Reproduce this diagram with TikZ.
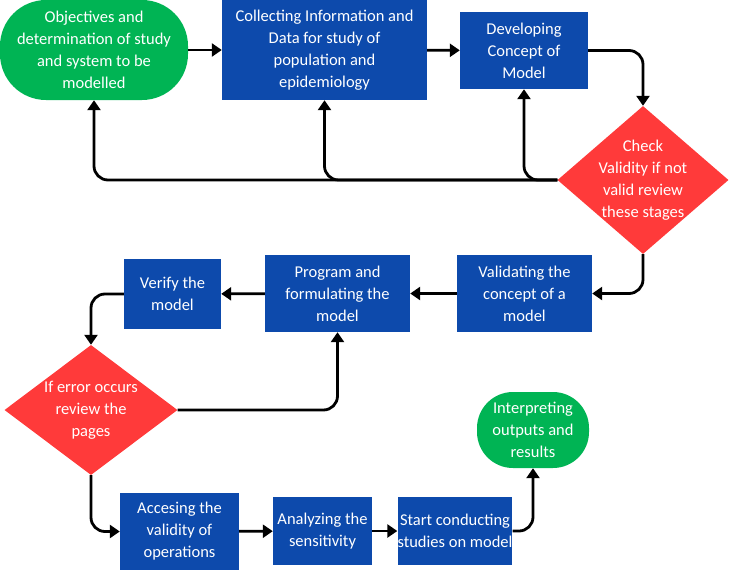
\documentclass[tikz,border=0pt]{standalone}
\usepackage{fontspec}
\setmainfont{Carlito}
\usepackage{tikz}
\usetikzlibrary{shapes.geometric, arrows.meta, positioning}
\usepackage{xcolor}
\definecolor{termgreen}{HTML}{00B454}
\definecolor{boxblue}{HTML}{0D4AAC}
\definecolor{checkred}{HTML}{FF3A3A}
\tikzstyle{startstop} = [rectangle, rounded corners=46pt, inner sep=0pt, align=center, fill=termgreen, text=white, font=\fontsize{16.5}{22}\selectfont]
\tikzstyle{process} = [rectangle, inner sep=0pt, align=center, fill=boxblue, text=white, font=\fontsize{16.5}{22}\selectfont]
\tikzstyle{decision} = [diamond, inner sep=-14pt, align=center, fill=checkred, text=white, font=\fontsize{16.5}{22}\selectfont]
\tikzstyle{arrow} = [line width=2.8pt, ->, >={Triangle[length=10pt, width=13pt]}, rounded corners=14pt]

\begin{document}
\begin{tikzpicture}[x=1pt, y=-1pt]
\useasboundingbox (0,0) rectangle (730,570);

% Top row
\node (obj) [startstop, minimum width=188pt, minimum height=100pt] at (94,50) {Objectives and\\determination of study\\and system to be\\modelled};
\node (coll) [process, minimum width=205pt, minimum height=100pt] at (324.5,50) {Collecting Information and\\Data for study of\\population and\\epidemiology};
\node (dev) [process, minimum width=128pt, minimum height=77pt] at (524,50.5) {Developing\\Concept of\\Model};
\node (check) [decision, minimum width=171pt, minimum height=148pt] at (643,180) {Check\\Validity if not\\valid review\\these stages};

% Middle row
\node (valid) [process, minimum width=135pt, minimum height=77pt] at (524.5,293.5) {Validating the\\concept of a\\model};
\node (prog) [process, minimum width=145pt, minimum height=77pt] at (337.5,293.5) {Program and\\formulating the\\model};
\node (verify) [process, minimum width=97pt, minimum height=70pt] at (172.5,294) {Verify the\\model};
\node (err) [decision, minimum width=173pt, minimum height=130pt] at (91,410) {If error occurs\\review the\\pages};

% Bottom row
\node (acc) [process, minimum width=119pt, minimum height=77pt] at (179.5,531.5) {Accesing the\\validity of\\operations};
\node (ana) [process, minimum width=99pt, minimum height=68pt] at (322.5,531) {Analyzing the\\sensitivity};
\node (start) [process, minimum width=108pt, minimum height=68pt] at (455,531) {Start conducting\\studies on model};
\node (interp) [startstop, rounded corners=36pt, minimum width=112pt, minimum height=76pt] at (533,430) {Interpreting\\outputs and\\results};

% Arrows
\draw [arrow] (obj) -- (coll);
\draw [arrow] (coll) -- (dev);
\draw [arrow] (dev.east) -| (check.north);
\draw [arrow] (check.west) -| (obj.south);
\draw [arrow] (check.west) -| (coll.south);
\draw [arrow] (check.west) -| (dev.south);
\draw [arrow] (check.south) |- (valid.east);
\draw [arrow] (valid) -- (prog);
\draw [arrow] (prog) -- (verify);
\draw [arrow] (verify.west) -| (err.north);
\draw [arrow] (err.east) -| (prog.south);
\draw [arrow] (err.south) |- (acc.west);
\draw [arrow] (acc) -- (ana);
\draw [arrow] (ana) -- (start);
\draw [arrow] (start.east) -| (interp.south);

\end{tikzpicture}
\end{document}
